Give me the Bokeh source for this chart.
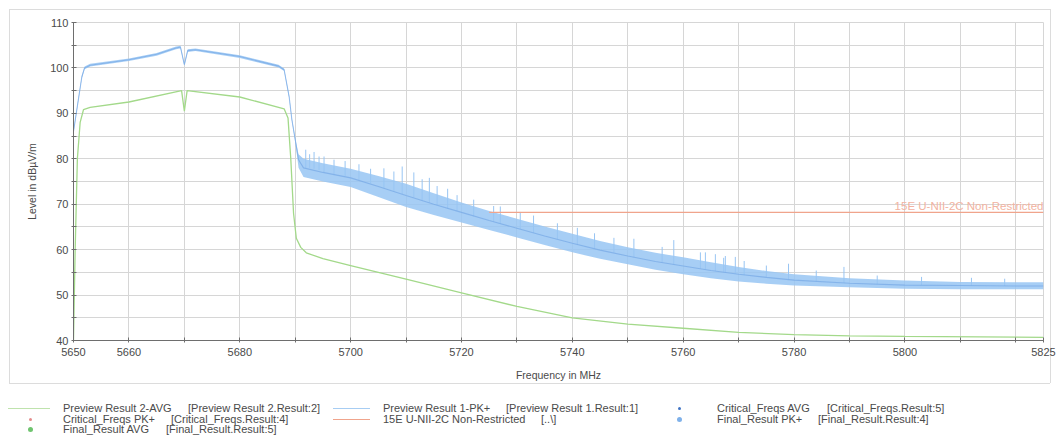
from bokeh.plotting import figure
from bokeh.models import FixedTicker, Range1d, Label, Div
from bokeh.layouts import column
from bokeh.embed import file_html
from bokeh.resources import INLINE

# ---------------- data ----------------
# Preview Result 1-PK+ : centre trace and envelope of the noise band
pk_freq = [5650, 5650.5, 5651, 5651.5, 5652, 5653, 5660, 5665, 5668.5, 5669.3, 5670, 5670.6,
           5672, 5680, 5687, 5688, 5688.9, 5689.4, 5690, 5690.6, 5691.5, 5695, 5700, 5705,
           5710, 5715, 5720, 5725, 5730, 5735, 5740, 5745, 5750, 5755, 5760, 5765, 5770,
           5775, 5780, 5790, 5800, 5810, 5820, 5825]
pk_level = [86, 90, 94, 98, 100, 100.6, 101.8, 103, 104.4, 104.6, 100.7, 103.8,
            104, 102.5, 100.4, 99.6, 93.7, 88.6, 84.2, 79.8, 78, 77, 75.8, 73.9,
            71.9, 70, 68.2, 66.4, 64.7, 63, 61.4, 59.9, 58.6, 57.4, 56.4, 55.4, 54.6,
            53.9, 53.3, 52.6, 52.2, 52.1, 52, 52]
pk_upper = [86.3, 90.3, 94.3, 98.3, 100.3, 100.9, 102.1, 103.3, 104.7, 104.9, 101.0, 104.1,
            104.3, 102.8, 100.7, 99.9, 94.0, 88.9, 84.6, 81, 80, 79, 77.8, 76.2,
            74.5, 72.4, 70.4, 68.5, 66.8, 65.1, 63.5, 61.9, 60.5, 59.3, 58.3, 57.2, 56.2,
            55.3, 54.6, 53.7, 53.2, 52.9, 52.8, 52.8]
pk_lower = [85.7, 89.7, 93.7, 97.7, 99.7, 100.3, 101.5, 102.7, 104.1, 104.3, 100.4, 103.5,
            103.7, 102.2, 100.1, 99.3, 93.4, 88.3, 83.8, 78, 76, 75, 73.8, 71.6,
            69.4, 67.6, 66, 64.3, 62.7, 61, 59.4, 58, 56.8, 55.6, 54.6, 53.7, 53,
            52.5, 52.1, 51.7, 51.4, 51.3, 51.3, 51.3]

# isolated peaks in the PK+ noise (frequency, foot, top)
spike_freq = [5691.9, 5692.6, 5693.4, 5694.3, 5695.2, 5697, 5699, 5701.5, 5703.6, 5706,
              5707.8, 5709.3, 5711.4, 5712.9, 5714.2, 5715.6, 5717.5, 5719.2, 5722.2, 5725.8,
              5727, 5730.6, 5733, 5737.3, 5740.9, 5744, 5747.5, 5751.1, 5756.2, 5758.3,
              5763.1, 5764, 5765.8, 5767.3, 5767.6, 5769.4, 5771, 5775, 5779, 5784, 5789,
              5795, 5803, 5812, 5818]
spike_foot = [78, 78, 77.8, 77.5, 77, 76.5, 76.1, 75.3, 74.6, 73.5,
              72.8, 72.2, 71.5, 70.8, 70.3, 69.8, 69, 68.5, 67.3, 66.1,
              65.7, 64.5, 63.7, 62.3, 61.1, 60.2, 59.3, 58.3, 57.1, 56.7,
              55.8, 55.6, 55.3, 55, 54.9, 54.7, 54.4, 53.9, 53.4, 53, 52.7,
              52.4, 52.2, 52.1, 52]
spike_top = [82, 81, 81.5, 80.5, 80.5, 79.8, 79.5, 78.8, 77.8, 77.9,
             77.2, 78.3, 77, 75.5, 75.8, 74, 73.4, 72, 71, 69.6,
             69.5, 68.3, 67.5, 65.8, 64.8, 63.6, 62.6, 62.4, 60.6, 62.1,
             59.4, 59.4, 59, 58.2, 58.6, 58.4, 57.5, 56.5, 56.9, 55.4, 56.2,
             54.3, 54.0, 53.8, 53.6]

# Preview Result 2-AVG
avg_freq = [5650, 5650.3, 5650.7, 5651.2, 5651.8, 5653, 5660, 5669.5, 5670, 5670.5, 5680,
            5688, 5688.7, 5689.2, 5689.7, 5690.2, 5691, 5692, 5695, 5700, 5710, 5720,
            5730, 5740, 5750, 5760, 5770, 5780, 5790, 5800, 5825]
avg_level = [40, 60, 80, 88, 90.8, 91.3, 92.5, 95, 90.5, 95, 93.6,
             91, 89, 80, 68, 62.5, 60.5, 59.3, 58, 56.5, 53.5, 50.5,
             47.5, 45, 43.6, 42.7, 41.8, 41.3, 41, 40.9, 40.7]

# 15E U-NII-2C Non-Restricted limit
limit_freq = [5725, 5825]
limit_level = [68.2, 68.2]
limit_name = "15E U-NII-2C Non-Restricted"

# axes
x_tick_values = [5650, 5660, 5670, 5680, 5690, 5700, 5710, 5720, 5730, 5740, 5750,
                 5760, 5770, 5780, 5790, 5800, 5810, 5820, 5825]
x_tick_labels = ["5650", "5660", "", "5680", "", "5700", "", "5720", "", "5740", "",
                 "5760", "", "5780", "", "5800", "", "", "5825"]
y_major_ticks = [40, 50, 60, 70, 80, 90, 100, 110]
y_minor_ticks = [45, 55, 65, 75, 85, 95, 105]
x_title = "Frequency in MHz"
y_title = "Level in dBµV/m"

# legend (column 1, column 2, column 3)
legend_names = ["Preview Result 2-AVG", "Critical_Freqs PK+", "Final_Result AVG",
                "Preview Result 1-PK+", "15E U-NII-2C Non-Restricted",
                "Critical_Freqs AVG", "Final_Result PK+"]
legend_refs = ["[Preview Result 2.Result:2]", "[Critical_Freqs.Result:4]",
               "[Final_Result.Result:5]", "[Preview Result 1.Result:1]", "[..\\]",
               "[Critical_Freqs.Result:5]", "[Final_Result.Result:4]"]

# ---------------- styling ----------------
FONT = "Liberation Sans"
GRID = "#d6d6d6"
AXIS = "#6e6e6e"
TXT = "#4a4a4a"
BLUE_BAND = "#98c5f3"
BLUE_LINE = "#78aae6"
GREEN = "#a3d98a"
RED = "#f0a48c"
BOX = "#dcdcdc"

p = figure(width=1057, height=384, x_range=Range1d(5650, 5825), y_range=Range1d(40, 110),
           output_backend="svg", toolbar_location=None,
           min_border_left=73, min_border_right=14, min_border_top=22, min_border_bottom=44)
p.outline_line_color = GRID
p.background_fill_color = "white"
p.border_fill_color = None
p.styles = {
    "background-color": "white",
    "background-image": ("linear-gradient(%s,%s), linear-gradient(%s,%s), "
                         "linear-gradient(%s,%s), linear-gradient(%s,%s)") % ((BOX,) * 8),
    "background-size": "1041px 1px, 1041px 1px, 1px 374px, 1px 374px",
    "background-position": "9px 9px, 9px 383px, 9px 9px, 1050px 9px",
    "background-repeat": "no-repeat",
}

xt = FixedTicker(ticks=x_tick_values)
p.xaxis.ticker = xt
p.xgrid.ticker = xt
p.xaxis.major_label_overrides = {v: l for v, l in zip(x_tick_values, x_tick_labels)}
yt = FixedTicker(ticks=y_major_ticks, minor_ticks=y_minor_ticks)
p.yaxis.ticker = yt
p.ygrid.ticker = yt

p.grid.grid_line_color = GRID
p.ygrid.minor_grid_line_color = GRID
for ax in (p.xaxis[0], p.yaxis[0]):
    ax.axis_line_color = AXIS
    ax.major_tick_line_color = AXIS
    ax.minor_tick_line_color = AXIS
    ax.major_tick_in = 3
    ax.major_tick_out = 2
    ax.minor_tick_in = 3
    ax.minor_tick_out = 2
    ax.major_label_text_font = FONT
    ax.major_label_text_font_size = "11px"
    ax.major_label_text_color = TXT
    ax.axis_label_text_font = FONT
    ax.axis_label_text_font_size = "10.5px"
    ax.axis_label_text_font_style = "normal"
    ax.axis_label_text_color = TXT
p.xaxis.minor_tick_line_color = None
p.xaxis.axis_label = x_title
p.yaxis.axis_label = y_title
p.xaxis.major_label_standoff = 5
p.xaxis.axis_label_standoff = 10
p.yaxis.major_label_standoff = 3
p.yaxis.axis_label_standoff = 9

# PK+ trace
p.varea(x=pk_freq, y1=pk_lower, y2=pk_upper, fill_color=BLUE_BAND, fill_alpha=0.85)
p.segment(x0=spike_freq, y0=spike_foot, x1=spike_freq, y1=spike_top,
          line_color=BLUE_BAND, line_width=1)
p.line(pk_freq, pk_level, line_color=BLUE_LINE, line_width=1.1, line_alpha=0.75)
# AVG trace
p.line(avg_freq, avg_level, line_color=GREEN, line_width=1.3)
# limit
p.line(limit_freq, limit_level, line_color=RED, line_width=1.2)
p.add_layout(Label(x=limit_freq[-1], y=limit_level[-1], x_offset=0, y_offset=0.5,
                   text=limit_name, text_align="right", text_baseline="bottom",
                   text_font=FONT, text_font_size="11.5px", text_color="#f2b3a1"))

# ---------------- legend (HTML below the chart) ----------------
LEG_H = 58
row_c = [24.5, 35, 45.5]                       # row centres inside the legend strip
name_x = [63, 63, 63, 383, 383, 717, 717]
row_of = [0, 1, 2, 0, 1, 0, 1]
ref_x = [188, 171, 166, 506, 541, 827, 818]
parts = []
for nm, rf, nx, rx, ri in zip(legend_names, legend_refs, name_x, ref_x, row_of):
    top = row_c[ri] - 6.5
    for t, xx in ((nm, nx), (rf, rx)):
        parts.append('<span style="position:absolute;left:%dpx;top:%.1fpx;'
                     'line-height:13px;white-space:nowrap;">%s</span>' % (xx, top, t))
# symbols: lines
for x0, x1, ri, col in ((8, 50, 0, "#bfe3ad"), (333, 370, 0, "#a7cdf3"), (333, 370, 1, RED)):
    parts.append('<div style="position:absolute;left:%dpx;top:%.1fpx;width:%dpx;height:1px;'
                 'background:%s;"></div>' % (x0, row_c[ri] - 0.5, x1 - x0, col))
# symbols: dots
for cx, ri, d, col in ((30, 1, 3, "#e58b8b"), (30, 2, 5, "#6fc46f"),
                       (679, 0, 3, "#3f73c4"), (679, 1, 5, "#7fb1ea")):
    parts.append('<div style="position:absolute;left:%.1fpx;top:%.1fpx;width:%dpx;height:%dpx;'
                 'border-radius:50%%;background:%s;"></div>'
                 % (cx - d / 2, row_c[ri] - d / 2, d, d, col))
html = ('<div style="position:relative;width:1057px;height:%dpx;font-family:\'%s\';'
        'font-size:11px;color:%s;">%s</div>' % (LEG_H, FONT, TXT, "".join(parts)))
legend_div = Div(text=html, width=1057, height=LEG_H, margin=0)

layout = column(p, legend_div, spacing=0)
open("out.html", "w").write(file_html(layout, INLINE))
